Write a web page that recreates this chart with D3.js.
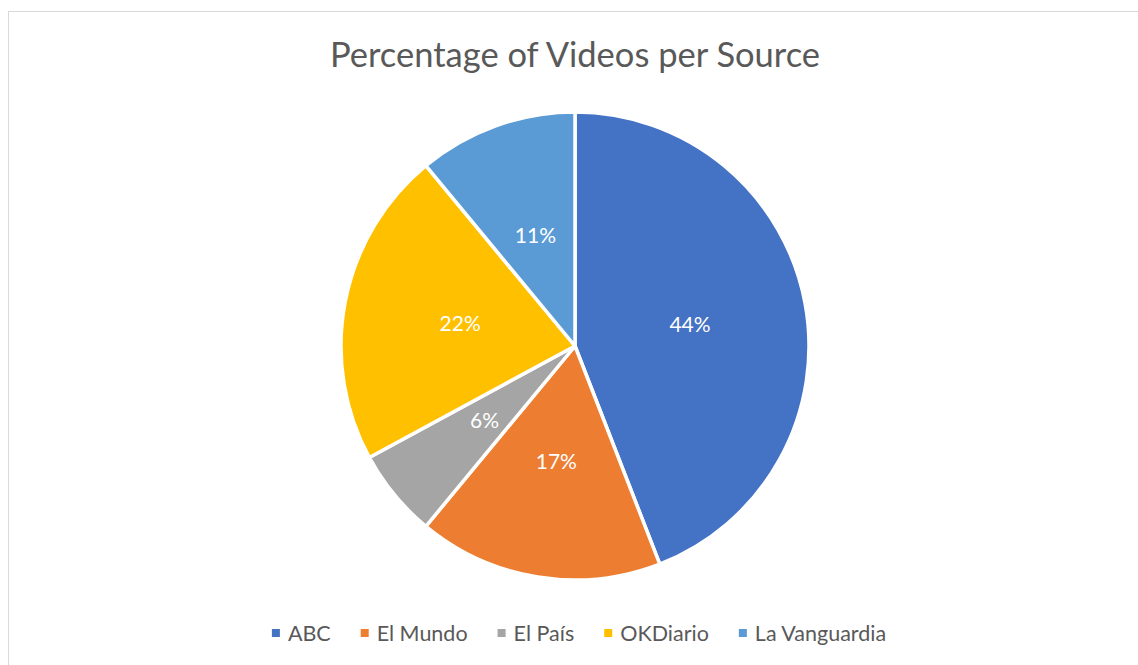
<!DOCTYPE html>
<html>
<head>
<meta charset="utf-8">
<script src="https://cdn.jsdelivr.net/npm/d3@7"></script>
<style>
  body { margin: 0; background: #fff; }
  text { font-family: Lato, "Open Sans", sans-serif; }
</style>
</head>
<body>
<svg id="chart"></svg>
<script>
"use strict"

const WIDTH = 1138;
const HEIGHT = 665;
const CENTER = { x: 575, y: 346 };
const RADIUS = 234;

const TITLE = "Percentage of Videos per Source";
const SOURCES = ["ABC", "El Mundo", "El País", "OKDiario", "La Vanguardia"];
const SHARES = [44.1, 16.9, 6.1, 21.9, 11.0];
const COLORS = ["#4472C4", "#ED7D31", "#A5A5A5", "#FFC000", "#5B9BD5"];

const svg = d3.select("#chart").attr("width", WIDTH).attr("height", HEIGHT);

// chart area border (runs off right/bottom like the original)
svg.append("rect")
    .attr("x", 8.5).attr("y", 11.5)
    .attr("width", WIDTH + 10).attr("height", HEIGHT + 10)
    .attr("fill", "none").attr("stroke", "#d9d9d9").attr("stroke-width", 1);

svg.append("text")
    .attr("x", 575).attr("y", 67)
    .attr("text-anchor", "middle")
    .attr("font-size", 34.5)
    .attr("fill", "#595959")
    .text(TITLE);

const total = d3.sum(SHARES);
const pie = d3.pie().sort(null).value(d => d)(SHARES);
const arc = d3.arc().innerRadius(0).outerRadius(RADIUS);
const color = d3.scaleOrdinal(SOURCES, COLORS);

const g = svg.append("g").attr("transform", `translate(${CENTER.x},${CENTER.y})`);

g.selectAll("path")
    .data(pie)
    .join("path")
    .attr("d", arc)
    .attr("fill", (d, i) => color(SOURCES[i]))
    .attr("stroke", "#fff")
    .attr("stroke-width", 3.5)
    .attr("stroke-linejoin", "round");

g.selectAll("text.lbl")
    .data(pie)
    .join("text")
    .attr("class", "lbl")
    .attr("transform", d => `translate(${arc.centroid(d)})`)
    .attr("text-anchor", "middle")
    .attr("dy", "0.35em")
    .attr("font-size", 21)
    .attr("fill", "#fff")
    .text(d => d3.format(".0%")(d.value / total));

// legend, centred under the pie
const legend = svg.append("g");
const items = legend.selectAll("g")
    .data(SOURCES)
    .join("g");
items.append("rect")
    .attr("width", 8).attr("height", 8)
    .attr("y", -4)
    .attr("fill", d => color(d));
items.append("text")
    .attr("x", 16)
    .attr("dy", "0.35em")
    .attr("font-size", 21.5)
    .attr("fill", "#595959")
    .text(d => d);

let xpos = 0;
items.each(function () {
    const w = d3.select(this).select("text").node().getComputedTextLength();
    d3.select(this).attr("transform", `translate(${xpos},0)`);
    xpos += 16 + w + 30;
});
const legendWidth = xpos - 30;
legend.attr("transform", `translate(${579 - legendWidth / 2},633)`);
</script>
</body>
</html>
